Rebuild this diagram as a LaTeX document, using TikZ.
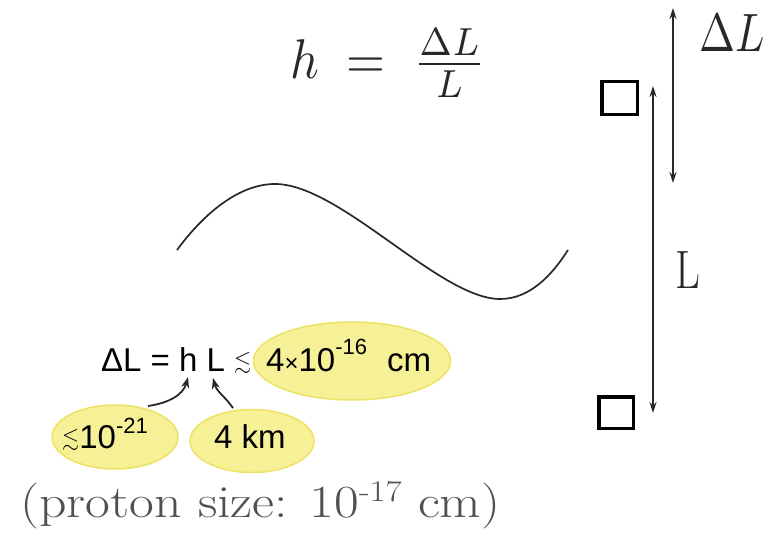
\documentclass[tikz,border=0pt]{standalone}
\usepackage{amssymb}
\usepackage{fontspec}
\newfontfamily\sansf{Liberation Sans}
\usetikzlibrary{arrows.meta,shapes.geometric}
\definecolor{ellfill}{RGB}{246,240,150}
\definecolor{elldraw}{RGB}{236,226,100}
\definecolor{txtgray}{RGB}{80,80,80}
\definecolor{inkgray}{RGB}{40,40,40}
\newcommand{\lsm}{{\fontsize{10}{12}\selectfont\raisebox{3pt}{\scalebox{2.2}{$\lesssim$}}}}
\begin{document}
\begin{tikzpicture}[x=1pt,y=-1pt,
  ell/.style={ellipse, fill=ellfill, draw=elldraw, line width=1.5pt, inner sep=0pt},
  arr/.style={draw=inkgray, line width=1.8pt, -{Stealth[length=11pt,width=8pt]}},
  darr/.style={draw=inkgray, line width=1.4pt, {Stealth[length=11pt,width=7pt]}-{Stealth[length=11pt,width=7pt]}},
  mass/.style={draw=black, line width=3.5pt, inner sep=0pt},
  sanstxt/.style={font=\sansf\fontsize{33}{40}\selectfont, text=black, inner sep=0pt},
  cmtxt/.style={text=inkgray, inner sep=0pt}
]
\useasboundingbox (0,0) rectangle (774,535);

% formula
\node[cmtxt, anchor=base west] (hform) at (290,78)
  {\scalebox{5.0}[5.6]{$h\;=\;\frac{\Delta L}{L}$}};

% wave
\draw[line width=1.7pt, inkgray] (177,250) .. controls (205,212) and (240,184) .. (275,184)
  .. controls (340,184) and (440,299) .. (500,299)
  .. controls (530,299) and (552,275) .. (568,250);

% masses
\node[mass, minimum width=35.5pt, minimum height=32.5pt] (m1) at (619.5,98) {};
\node[mass, minimum width=34.5pt, minimum height=31.5pt] (m2) at (616,412.5) {};

% arrows right
\coordinate (dlTop) at (673,8);
\coordinate (dlBot) at (673,183);
\coordinate (lTop) at (653,86);
\coordinate (lBot) at (653,413);
\draw[darr] (dlTop) -- (dlBot);
\draw[darr] (lTop) -- (lBot);
\node[cmtxt, anchor=base west] (dlLab) at (699,52)
  {\scalebox{4.32}[5.4]{$\Delta L$}};
\node[cmtxt, anchor=base west] (lLab) at (675,288)
  {\scalebox{0.8}[1]{\fontsize{54}{60}\selectfont L}};

% ellipses
\node[ell, minimum width=197pt, minimum height=78pt] (eBig) at (352,361) {};
\node[ell, minimum width=126pt, minimum height=64pt] (eH) at (115,437) {};
\node[ell, minimum width=124pt, minimum height=63pt] (eL) at (252,441) {};

% sans texts
\node[sanstxt, anchor=base west] (eq) at (101,371) {ΔL = h L \lsm};
\node[sanstxt, anchor=base west] (eqr) at (266,371)
  {4{\fontsize{24}{24}\selectfont×}10\raisebox{17pt}{\fontsize{22}{22}\selectfont -16}\hspace{20pt}cm};
\node[sanstxt, anchor=base west] (th) at (62,448)
  {\lsm10\raisebox{15pt}{\fontsize{22}{22}\selectfont -21}};
\node[sanstxt, anchor=base west] (tl) at (214,448) {4 km};

% curved arrows
\coordinate (aH) at (148,406);
\coordinate (tipH) at (188,377);
\coordinate (aL) at (233,408);
\coordinate (tipL) at (213,378);
\draw[arr] (aH) to[out=8,in=-105] (tipH);
\draw[arr] (aL) to[out=125,in=-75] (tipL);

% proton text
\node[anchor=base west, inner sep=0pt, text=txtgray] (proton) at (20,517)
  {\scalebox{1.17}[1]{\fontsize{46}{50}\selectfont (proton size: 10\raisebox{16pt}{\fontsize{30}{30}\selectfont -17} cm)}};
\end{tikzpicture}
\end{document}
